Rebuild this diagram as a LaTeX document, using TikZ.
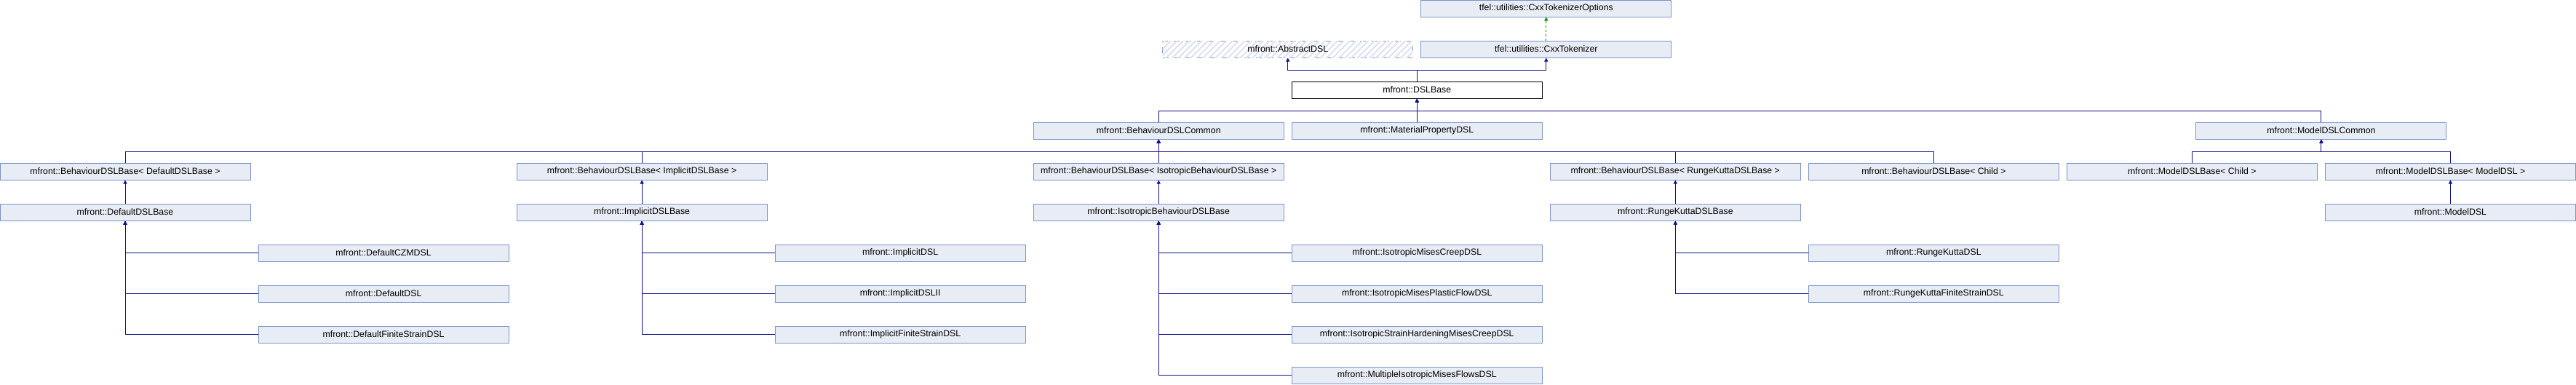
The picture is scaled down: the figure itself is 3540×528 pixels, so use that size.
\documentclass[tikz,border=0pt]{standalone}
\usepackage{fontspec}
\setmainfont{Liberation Sans}
\usetikzlibrary{arrows.meta,patterns.meta}
\definecolor{boxfill}{RGB}{232,236,245}
\definecolor{boxline}{RGB}{125,147,200}
\definecolor{edgecol}{RGB}{16,16,140}
\definecolor{tmplcol}{RGB}{0,150,0}
\definecolor{hatchcol}{RGB}{222,228,240}
\tikzset{
  cls/.style={draw=boxline, fill=boxfill, line width=1pt, minimum width=344pt, minimum height=23pt, inner sep=0pt,
    font=\fontsize{12.3}{14}\selectfont},
  focus/.style={cls, draw=black, fill=white},
  undoc/.style={cls, dashed, dash pattern=on 8pt off 8pt, fill=white,
    postaction={pattern={Lines[angle=45,distance=6pt,line width=2.2pt]}, pattern color=hatchcol}},
  edge/.style={draw=edgecol, line width=1pt, -{Triangle[width=5pt,length=5pt]}},
  tmpl/.style={draw=tmplcol, line width=1pt, dash pattern=on 3pt off 3pt, -{Triangle[width=5pt,length=5pt]}},
}
\newcommand\cx[1]{\fpeval{355.05*(#1)+172}}
\newcommand\ry[1]{\fpeval{-(56*(#1)+11.5)}}
\newcommand\cls[5][cls]{\node[#1] (#2) at (\cx{#3},\ry{#4}) {#5};}
\begin{document}
\begin{tikzpicture}[x=1pt,y=1pt]
\useasboundingbox (0,0) rectangle (3540,-528);
% nodes
\cls{opt}{5.5}{0}{tfel::utilities::CxxTokenizerOptions}
\cls[undoc]{abs}{4.5}{1}{mfront::AbstractDSL}
\cls{tok}{5.5}{1}{tfel::utilities::CxxTokenizer}
\cls[focus]{dsl}{5}{2}{mfront::DSLBase}
\cls{bdc}{4}{3}{mfront::BehaviourDSLCommon}
\cls{mpd}{5}{3}{mfront::MaterialPropertyDSL}
\cls{mdc}{8.5}{3}{mfront::ModelDSLCommon}
\cls{bbd}{0}{4}{mfront::BehaviourDSLBase< DefaultDSLBase >}
\cls{bbi}{2}{4}{mfront::BehaviourDSLBase< ImplicitDSLBase >}
\cls{bbs}{4}{4}{mfront::BehaviourDSLBase< IsotropicBehaviourDSLBase >}
\cls{bbr}{6}{4}{mfront::BehaviourDSLBase< RungeKuttaDSLBase >}
\cls{bbc}{7}{4}{mfront::BehaviourDSLBase< Child >}
\cls{mbc}{8}{4}{mfront::ModelDSLBase< Child >}
\cls{mbm}{9}{4}{mfront::ModelDSLBase< ModelDSL >}
\cls{ddb}{0}{5}{mfront::DefaultDSLBase}
\cls{idb}{2}{5}{mfront::ImplicitDSLBase}
\cls{isb}{4}{5}{mfront::IsotropicBehaviourDSLBase}
\cls{rkb}{6}{5}{mfront::RungeKuttaDSLBase}
\cls{mdl}{9}{5}{mfront::ModelDSL}
\cls{dcz}{1}{6}{mfront::DefaultCZMDSL}
\cls{dd}{1}{7}{mfront::DefaultDSL}
\cls{dfs}{1}{8}{mfront::DefaultFiniteStrainDSL}
\cls{id}{3}{6}{mfront::ImplicitDSL}
\cls{id2}{3}{7}{mfront::ImplicitDSLII}
\cls{ifs}{3}{8}{mfront::ImplicitFiniteStrainDSL}
\cls{imc}{5}{6}{mfront::IsotropicMisesCreepDSL}
\cls{imp}{5}{7}{mfront::IsotropicMisesPlasticFlowDSL}
\cls{ish}{5}{8}{mfront::IsotropicStrainHardeningMisesCreepDSL}
\cls{mim}{5}{9}{mfront::MultipleIsotropicMisesFlowsDSL}
\cls{rk}{7}{6}{mfront::RungeKuttaDSL}
\cls{rkf}{7}{7}{mfront::RungeKuttaFiniteStrainDSL}
% bus levels
\coordinate (busA) at (0,-96);
\coordinate (busB) at (0,-152);
\coordinate (busC) at (0,-208);
% template relation
\draw[tmpl] (tok.north) -- (opt.south);
% DSLBase
\draw[edge] (dsl.north) -- (dsl.north |- busA) -| (abs.south);
\draw[edge] (dsl.north) -- (dsl.north |- busA) -| (tok.south);
% row 3
\foreach \c in {bdc,mpd,mdc}
  \draw[edge] (\c.north) -- (\c.north |- busB) -| (dsl.south);
% row 4
\foreach \c in {bbd,bbi,bbs,bbr,bbc}
  \draw[edge] (\c.north) -- (\c.north |- busC) -| (bdc.south);
\foreach \c in {mbc,mbm}
  \draw[edge] (\c.north) -- (\c.north |- busC) -| (mdc.south);
% row 5
\draw[edge] (ddb.north) -- (bbd.south);
\draw[edge] (idb.north) -- (bbi.south);
\draw[edge] (isb.north) -- (bbs.south);
\draw[edge] (rkb.north) -- (bbr.south);
\draw[edge] (mdl.north) -- (mbm.south);
% leaves
\foreach \c in {dcz,dd,dfs} \draw[edge] (\c.west) -| (ddb.south);
\foreach \c in {id,id2,ifs} \draw[edge] (\c.west) -| (idb.south);
\foreach \c in {imc,imp,ish,mim} \draw[edge] (\c.west) -| (isb.south);
\foreach \c in {rk,rkf} \draw[edge] (\c.west) -| (rkb.south);
\end{tikzpicture}
\end{document}
